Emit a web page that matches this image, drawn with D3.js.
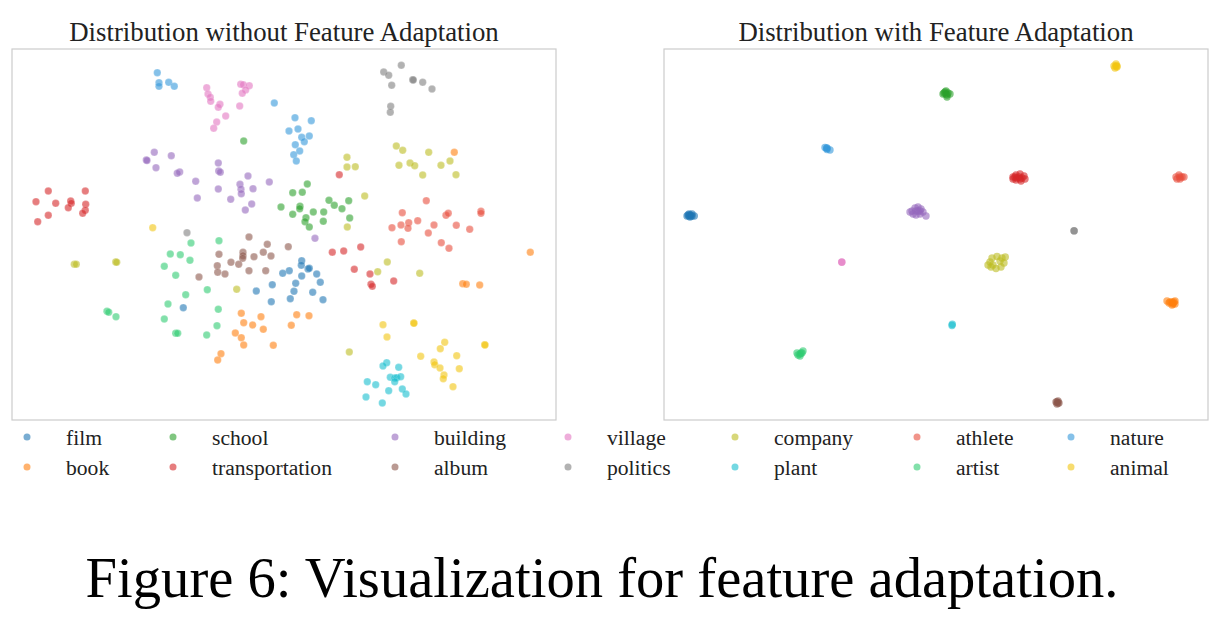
<!DOCTYPE html>
<html><head><meta charset="utf-8">
<script src="https://cdn.jsdelivr.net/npm/d3@7"></script>
<style>
html,body{margin:0;padding:0;background:#fff;}
svg text{font-family:"Liberation Serif","Times New Roman",serif;}
</style></head>
<body><svg id="c" width="1219" height="630"></svg>
<script>
// ---- data: embedding coordinates (dim1, dim2) ----
const categories = ["film","book","school","transportation","building","album","village","politics","company","plant","athlete","artist","nature","animal"];
const colors = ["#1f77b4","#ff7f0e","#2ca02c","#d62728","#9467bd","#8c564b","#e377c2","#7f7f7f","#bcbd22","#17becf","#e74c3c","#2ecc71","#3498db","#f1c40f"];
const panelTitles = ["Distribution without Feature Adaptation","Distribution with Feature Adaptation"];
const caption = "Figure 6: Visualization for feature adaptation.";

// without feature adaptation
const filmBefore = [[301.7,260.7],[301.3,265.3],[308,269],[309.3,268.3],[289.3,270.7],[282.7,273.3],[316.7,274],[301.7,276],[295.7,283.3],[320.3,282.3],[294,291.3],[312.7,292.3],[290.3,298.7],[323,299.7],[183.3,307.7],[256.3,291],[272.3,284.7],[271.3,301.7]];
const bookBefore = [[454.3,152.3],[530.3,252.3],[462.7,283.7],[466.3,284.3],[479.7,285],[296.7,314.7],[309,315.7],[291.3,325.3],[241.3,313.3],[261,316.7],[243.7,322.7],[252.7,325],[263.3,329.3],[235.3,333],[241.3,337.7],[243.7,345],[273.3,345.3],[221,353.7],[217.7,360]];
const schoolBefore = [[243.7,141],[281,207],[307.3,184],[292.7,192.7],[302.3,192.3],[300,206.3],[299.7,208.7],[292.7,214.3],[313.3,212],[323.7,212],[329,200.3],[334.3,205.3],[342,208.7],[348.7,200.7],[306,217.7],[305,221.7],[309.3,227],[323.3,221.3],[349.7,218]];
const transportationBefore = [[48.3,191],[85.3,191],[36,201.7],[55.7,203.3],[70.7,201],[71.3,203.3],[68.3,207.7],[85.7,204.3],[85.3,210.3],[82.7,213.3],[48.3,215.3],[37.7,221.7],[339.3,174.7],[360.7,247],[332.3,252.3],[343.7,251],[354.3,269.3],[370,274],[371,284.3],[372.3,286.3],[393.7,281]];
const buildingBefore = [[154.3,152.3],[146.3,160],[147,160.5],[171.3,155.7],[156,167.7],[179.7,172],[177.3,173.3],[218.3,163],[218.7,171],[220.3,172.3],[195.7,181.3],[248,176],[269.3,182],[218.3,189],[240,184.3],[241,189.3],[241.3,193.7],[253,188.7],[197.3,198],[230.7,199.3],[251.7,204],[245.3,210],[315,238.3]];
const albumBefore = [[249,237],[267.3,244.3],[288.3,246.7],[219,254.3],[243,252.3],[243,255.7],[242.7,258.3],[254,256.7],[263.3,252.3],[271,256],[231,262.3],[238.7,264.3],[217.3,265.7],[217.7,272.3],[225,274],[249,270.7],[265.7,270.7],[199,277]];
const villageBefore = [[206.7,87.7],[208,94],[210.3,97.3],[210.7,101.3],[240.7,84.3],[243.3,84.7],[249.3,85.7],[245.7,90],[242.3,93.3],[220,104.3],[218.3,107.3],[239.7,106],[225.7,116],[216.7,122],[213.7,128.3]];
const politicsBefore = [[401.3,65.3],[383.7,72],[388.7,75.3],[391.7,85.3],[412.7,79.7],[413.3,80],[422.7,82.3],[432,89],[390.7,106.3],[390.3,112.3],[187,232.7]];
const companyBefore = [[347,157.3],[347,167],[355.3,166.7],[396.3,146],[402.7,150.3],[428.7,152.3],[399,165.3],[410,163],[414.7,165.7],[422.7,175],[441,165.3],[450,161],[456,174.7],[364.7,196],[347.3,227],[387.3,262],[377.7,271.7],[419.7,273.3],[349.3,352],[74.3,264.3],[76.3,264.3],[115.7,262],[116.7,262.3],[236.7,289.3]];
const plantBefore = [[386.7,362.7],[383,366],[398.7,367.3],[390.3,377.3],[394.7,378],[396.7,377.7],[400.7,376.7],[394.7,381.7],[367.3,381.7],[375.7,384.7],[402.3,389],[406,394],[388.7,390.7],[366,397],[382.3,403]];
const athleteBefore = [[426.3,200.7],[402.3,212.7],[446,215.3],[448.3,213.3],[481,211.3],[481,213.3],[401,225],[408.7,222.7],[408,228.3],[417.7,220.7],[434,225],[456.3,225.3],[392,227.7],[428.3,233],[469.7,229.3],[401.3,241.7],[441.3,242.7],[449,248.3]];
const artistBefore = [[107,311.3],[108.7,312.3],[116,316.7],[191,243],[219,240.7],[170.3,254],[180.3,254.7],[190,260.3],[164.3,266.3],[175.7,275.3],[207.3,289.7],[185.7,294.7],[168,304],[218.3,309.3],[164.3,319],[217,325.7],[175.7,333.3],[177.7,333.3],[206.7,335]];
const natureBefore = [[157.3,72.7],[159,82.7],[159,86.3],[168.7,82.3],[174.3,86.3],[274.3,103],[289,131],[295,117.7],[311.3,120.7],[298,129],[301.7,137.3],[304.3,141.7],[309.3,136],[295.3,144.7],[299.7,151],[293.7,154.7],[296.3,161]];
const animalBefore = [[152.7,227.7],[383,324.7],[413.7,323],[414,323.3],[387,337],[444.7,342.3],[440.3,348.7],[484.7,344.7],[485,345],[420.7,356.3],[456.7,355.7],[434,362],[434.7,364.7],[440,368],[459.3,368.7],[444,375],[443.3,378.7],[453,386.7]];

// with feature adaptation
const filmAfter = [[36,215],[38,217],[40,214],[37,214],[39,216],[42.3,216],[35,216],[38,215],[37,216],[40,216]];
const bookAfter = [[515,301],[518,302],[521,303],[523,304],[520,305],[517,303],[523,301],[520,302],[521,304],[522,302]];
const schoolAfter = [[292,93],[296,93],[294,91],[298,94],[295,97],[291,94],[294,94],[295,95],[293,92]];
const transportationAfter = [[361,177],[364,175],[368,174],[372,176],[373,179],[369,181],[364,180],[367,177],[361,179],[370,178],[365,178],[368,179],[363,177]];
const buildingAfter = [[260,211],[263,208],[266,207],[269,209],[271,212],[268,214],[264,215],[261,214],[266,211],[274,216],[258,212],[264,211],[268,211]];
const albumAfter = [[404,402],[406,401],[407,403],[405,404],[405,402],[406,403]];
const villageAfter = [[189.7,262],[189.9,262.2]];
const politicsAfter = [[422,230.7],[422.2,230.9]];
const companyAfter = [[338,262],[340,258],[345,256.5],[350,258],[352,263],[349,267],[344,268.5],[339,267],[336,265],[353.3,257],[341,265],[348,261]];
const plantAfter = [[300.3,324.3],[300,325.5]];
const athleteAfter = [[524,177],[527,175],[530,177],[532,177],[528,179],[525,179],[528,177]];
const artistAfter = [[146,355],[149,353],[151,351],[148,356],[145,353],[148,354],[150,353]];
const natureAfter = [[174.7,148.3],[178,150],[173,147.5],[175,149.5],[175,148]];
const animalAfter = [[462,66],[465,66],[464,64],[463,68],[464,66],[465,67]];

const before = [filmBefore,bookBefore,schoolBefore,transportationBefore,buildingBefore,albumBefore,villageBefore,politicsBefore,companyBefore,plantBefore,athleteBefore,artistBefore,natureBefore,animalBefore];
const after = [filmAfter,bookAfter,schoolAfter,transportationAfter,buildingAfter,albumAfter,villageAfter,politicsAfter,companyAfter,plantAfter,athleteAfter,artistAfter,natureAfter,animalAfter];

// ---- drawing ----
const svg = d3.select("#c");
const W = 544, H = 371;
const x = d3.scaleLinear().domain([12,556]).range([0,W]);
const y = d3.scaleLinear().domain([49,420]).range([0,H]);
const color = d3.scaleOrdinal().domain(categories).range(colors);

function panel(left, sets, title, strokeW){
  const g = svg.append("g").attr("transform",`translate(${left},49)`);
  g.append("rect").attr("x",0).attr("y",0).attr("width",W).attr("height",H)
    .attr("fill","#fff").attr("stroke","#cccccc").attr("stroke-width",1.2);
  const pts = [];
  sets.forEach((s,i)=>s.forEach(p=>pts.push({c:categories[i],x:p[0],y:p[1]})));
  g.selectAll("circle").data(pts).join("circle")
    .attr("cx",d=>x(d.x)).attr("cy",d=>y(d.y)).attr("r",3.7)
    .attr("fill",d=>color(d.c)).attr("fill-opacity",0.6)
    .attr("stroke","#fff").attr("stroke-width",strokeW).attr("stroke-opacity",0.5);
  g.append("text").attr("x",W/2).attr("y",-8).attr("text-anchor","middle")
    .attr("font-size",26.8).attr("fill","#222").text(title);
}
panel(12, before, panelTitles[0], 0.4);
panel(664, after, panelTitles[1], 0);

// legend: 7 columns x 2 rows, column-major
const colX = [27,173,395,568,735,917,1071];
const rowY = [437,467];
const lg = svg.append("g");
categories.forEach((c,i)=>{
  const col = Math.floor(i/2), row = i%2;
  lg.append("circle").attr("cx",colX[col]).attr("cy",rowY[row]).attr("r",3.5)
    .attr("fill",color(c)).attr("fill-opacity",0.6);
  lg.append("text").attr("x",colX[col]+39).attr("y",rowY[row]+7.5)
    .attr("font-size",21.6).attr("fill","#222").text(c);
});

svg.append("text").attr("x",602).attr("y",597).attr("text-anchor","middle")
  .attr("font-size",56.6).attr("fill","#000").text(caption);
</script>
</body></html>
